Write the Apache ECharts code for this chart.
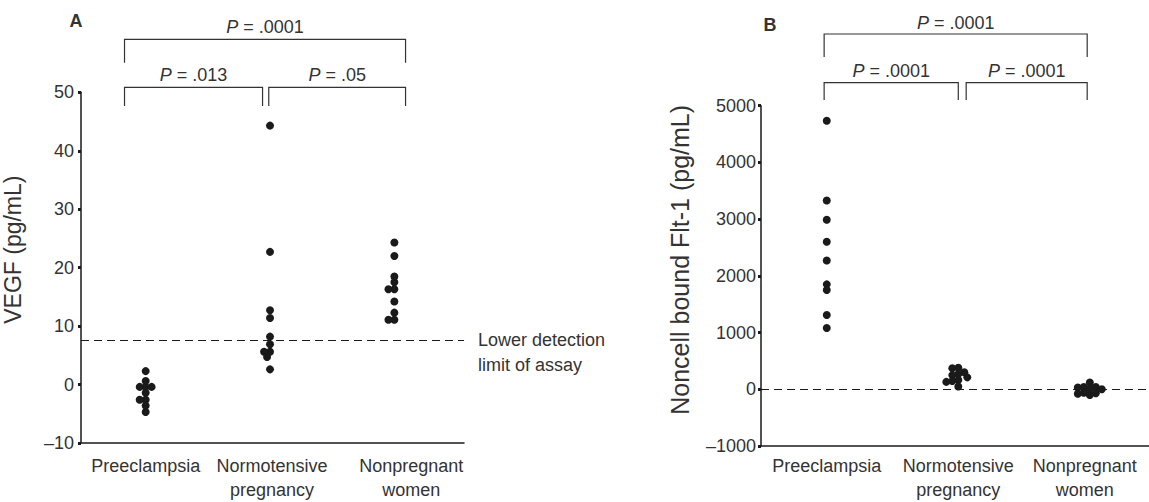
<!DOCTYPE html>
<html>
<head>
<meta charset="utf-8">
<script src="https://cdn.jsdelivr.net/npm/echarts@6/dist/echarts.min.js"></script>
<style>
  html, body { margin: 0; padding: 0; background: #fff; }
  #chart { width: 1149px; height: 502px; }
</style>
</head>
<body>
<div id="chart"></div>
<script>
// ---------- data ----------
const categories = ['Preeclampsia', 'Normotensive\npregnancy', 'Nonpregnant\nwomen'];

const vegfPreeclampsia = [2.3, 0.6, -0.4, -0.4, -0.4, -1.4, -2.6, -2.6, -3.6, -4.7];
const vegfNormotensive = [44.3, 22.7, 12.7, 11.4, 8.2, 6.9, 5.6, 5.6, 4.7, 2.6];
const vegfNonpregnant  = [24.3, 22.0, 18.5, 17.5, 16.3, 16.3, 14.2, 12.3, 11.1, 11.1];
const vegfDetectionLimit = 7.6;
const vegfAxisRange = [-10, 50, 10];

const flt1Preeclampsia = [4735, 3330, 2990, 2600, 2270, 1850, 1750, 1310, 1080];
const flt1Normotensive = [380, 370, 300, 270, 250, 210, 165, 145, 130, 50];
const flt1Nonpregnant  = [120, 40, 40, 30, 10, 0, -60, -70, -80, -100];
const flt1Baseline = 0;
const flt1AxisRange = [-1000, 5000, 1000];

const pLabelsA = ['.0001', '.013', '.05'];
const pLabelsB = ['.0001', '.0001', '.0001'];

// ---------- layout ----------
const FONT = "'Liberation Sans', Arial, Helvetica, sans-serif";
const TXT = '#333';
const INK = '#1a1a1a';

const gridA = { left: 78, top: 92.3, width: 386, height: 352.2 };
const gridB = { left: 761, top: 105.7, width: 388, height: 342.6 };
const xRangeA = [-0.52, 2.56];
const xRangeB = [-0.5, 2.45];

// beeswarm: spread coincident dots sideways (in pixels), then convert to axis units
function swarm(values, cat, pxPerY, pxPerX) {
  const minDist = 5.5, step = 3;
  const order = values.map((v, i) => i).sort((a, b) => values[b] - values[a]);
  const placed = [];
  const out = new Array(values.length);
  order.forEach(idx => {
    const y = values[idx] * pxPerY;
    let dx = 0;
    for (let k = 0; k < 40; k++) {
      const cand = k === 0 ? 0 : (k % 2 ? -1 : 1) * Math.ceil(k / 2) * step;
      const ok = placed.every(p => Math.hypot(p[0] - cand, p[1] - y) >= minDist);
      if (ok) { dx = cand; break; }
    }
    placed.push([dx, y]);
    out[idx] = [cat + dx / pxPerX, values[idx]];
  });
  return out;
}

const pyA = gridA.height / (vegfAxisRange[1] - vegfAxisRange[0]);
const pxA = gridA.width / (xRangeA[1] - xRangeA[0]);
const pyB = gridB.height / (flt1AxisRange[1] - flt1AxisRange[0]);
const pxB = gridB.width / (xRangeB[1] - xRangeB[0]);

const dataA = [].concat(
  swarm(vegfPreeclampsia, 0, pyA, pxA),
  swarm(vegfNormotensive, 1, pyA, pxA),
  swarm(vegfNonpregnant, 2, pyA, pxA)
);
const dataB = [].concat(
  swarm(flt1Preeclampsia, 0, pyB, pxB),
  swarm(flt1Normotensive, 1, pyB, pxB),
  swarm(flt1Nonpregnant, 2, pyB, pxB)
);

function xAxisCfg(idx, range, margin, shiftPx, pxPerX) {
  const labelAt = categories.map((c, i) => i + shiftPx[i] / pxPerX);
  return {
    type: 'value', gridIndex: idx, min: range[0], max: range[1],
    axisLine: { show: true, onZero: false, lineStyle: { color: INK, width: 1.5 } },
    axisTick: { show: false },
    splitLine: { show: false },
    axisLabel: {
      customValues: labelAt, margin: margin, hideOverlap: false,
      formatter: v => categories[Math.round(v)],
      fontSize: 18, fontFamily: FONT, color: TXT, lineHeight: 24
    }
  };
}
function yAxisCfg(idx, range, name, nameSize, nameGap, lift, margin) {
  return {
    type: 'value', gridIndex: idx, min: range[0], max: range[1], interval: range[2],
    name: name, nameLocation: 'middle', nameGap: nameGap,
    nameTextStyle: { fontSize: nameSize, fontFamily: FONT, color: TXT, padding: [0, 0, 0, lift * 2] },
    axisLine: { show: true, onZero: false, lineStyle: { color: INK, width: 1.5 } },
    axisTick: { show: true, length: 3, lineStyle: { color: INK, width: 3 } },
    splitLine: { show: false },
    axisLabel: {
      margin: margin, fontSize: 18, fontFamily: FONT, color: TXT,
      formatter: v => String(v).replace('-', '\u2013')
    }
  };
}

const chart = echarts.init(document.getElementById('chart'), null, { renderer: 'svg' });

chart.setOption({
  animation: false,
  backgroundColor: '#fff',
  grid: [gridA, gridB],
  xAxis: [
    xAxisCfg(0, xRangeA, 11, [0, 2, 17], pxA),
    xAxisCfg(1, xRangeB, 8, [0, 0, -5], pxB)
  ],
  yAxis: [
    yAxisCfg(0, vegfAxisRange, 'VEGF (pg/mL)', 23, 57, 18, 7),
    yAxisCfg(1, flt1AxisRange, 'Noncell bound Flt-1 (pg/mL)', 25, 69, 16, 5)
  ],
  series: [
    {
      type: 'scatter', xAxisIndex: 0, yAxisIndex: 0, data: dataA,
      symbolSize: 8, itemStyle: { color: INK, opacity: 1 }, silent: true,
      markLine: {
        silent: true, symbol: 'none',
        lineStyle: { color: INK, width: 1.2, type: [8, 5] },
        label: {
          show: true, position: 'end', distance: 14,
          formatter: '\nLower detection\nlimit of assay',
          fontSize: 18, fontFamily: FONT, color: TXT, lineHeight: 25
        },
        data: [{ yAxis: vegfDetectionLimit }]
      }
    },
    {
      type: 'scatter', xAxisIndex: 1, yAxisIndex: 1, data: dataB,
      symbolSize: 8, itemStyle: { color: INK, opacity: 1 }, silent: true,
      markLine: {
        silent: true, symbol: 'none',
        lineStyle: { color: INK, width: 1.2, type: [8, 5] },
        label: { show: false },
        data: [{ yAxis: flt1Baseline }]
      }
    }
  ]
});

// ---------- significance brackets ----------
function bracketGraphics(axisIdx, spans, labels, yLevels) {
  const px = v => chart.convertToPixel({ xAxisIndex: axisIdx }, v);
  const g = [];
  spans.forEach((s, i) => {
    const lv = yLevels[i];
    const x1 = px(s[0]), x2 = px(s[1]);
    g.push({
      type: 'polyline', silent: true,
      shape: { points: [[x1, lv.bottom], [x1, lv.top], [x2, lv.top], [x2, lv.bottom]] },
      style: { stroke: '#333', lineWidth: 1.2, fill: null }
    });
    g.push({
      type: 'text', silent: true, x: (x1 + x2) / 2, y: lv.text,
      style: {
        text: '{i|P} = ' + labels[i], align: 'center', verticalAlign: 'middle',
        font: '18px ' + FONT, fill: TXT,
        rich: { i: { fontStyle: 'italic', fontSize: 18, fontFamily: FONT, fill: TXT } }
      }
    });
  });
  return g;
}

const topA = { top: 39.3, bottom: 62.7, text: 26.7 };
const lowA = { top: 87.3, bottom: 106, text: 75 };
const topB = { top: 34, bottom: 57, text: 23 };
const lowB = { top: 82.7, bottom: 100, text: 71 };

const graphics = [].concat(
  bracketGraphics(0, [[-0.17, 2.09], [-0.17, 0.94], [0.99, 2.09]], pLabelsA, [topA, lowA, lowA]),
  bracketGraphics(1, [[-0.02, 1.98], [-0.02, 1.0], [1.06, 1.98]], pLabelsB, [topB, lowB, lowB]),
  [
    { type: 'text', x: 76, y: 21, silent: true,
      style: { text: 'A', font: 'bold 18px ' + FONT, fill: TXT, align: 'center', verticalAlign: 'middle' } },
    { type: 'text', x: 770, y: 25, silent: true,
      style: { text: 'B', font: 'bold 18px ' + FONT, fill: TXT, align: 'center', verticalAlign: 'middle' } }
  ]
);
chart.setOption({ graphic: graphics });
</script>
</body>
</html>
